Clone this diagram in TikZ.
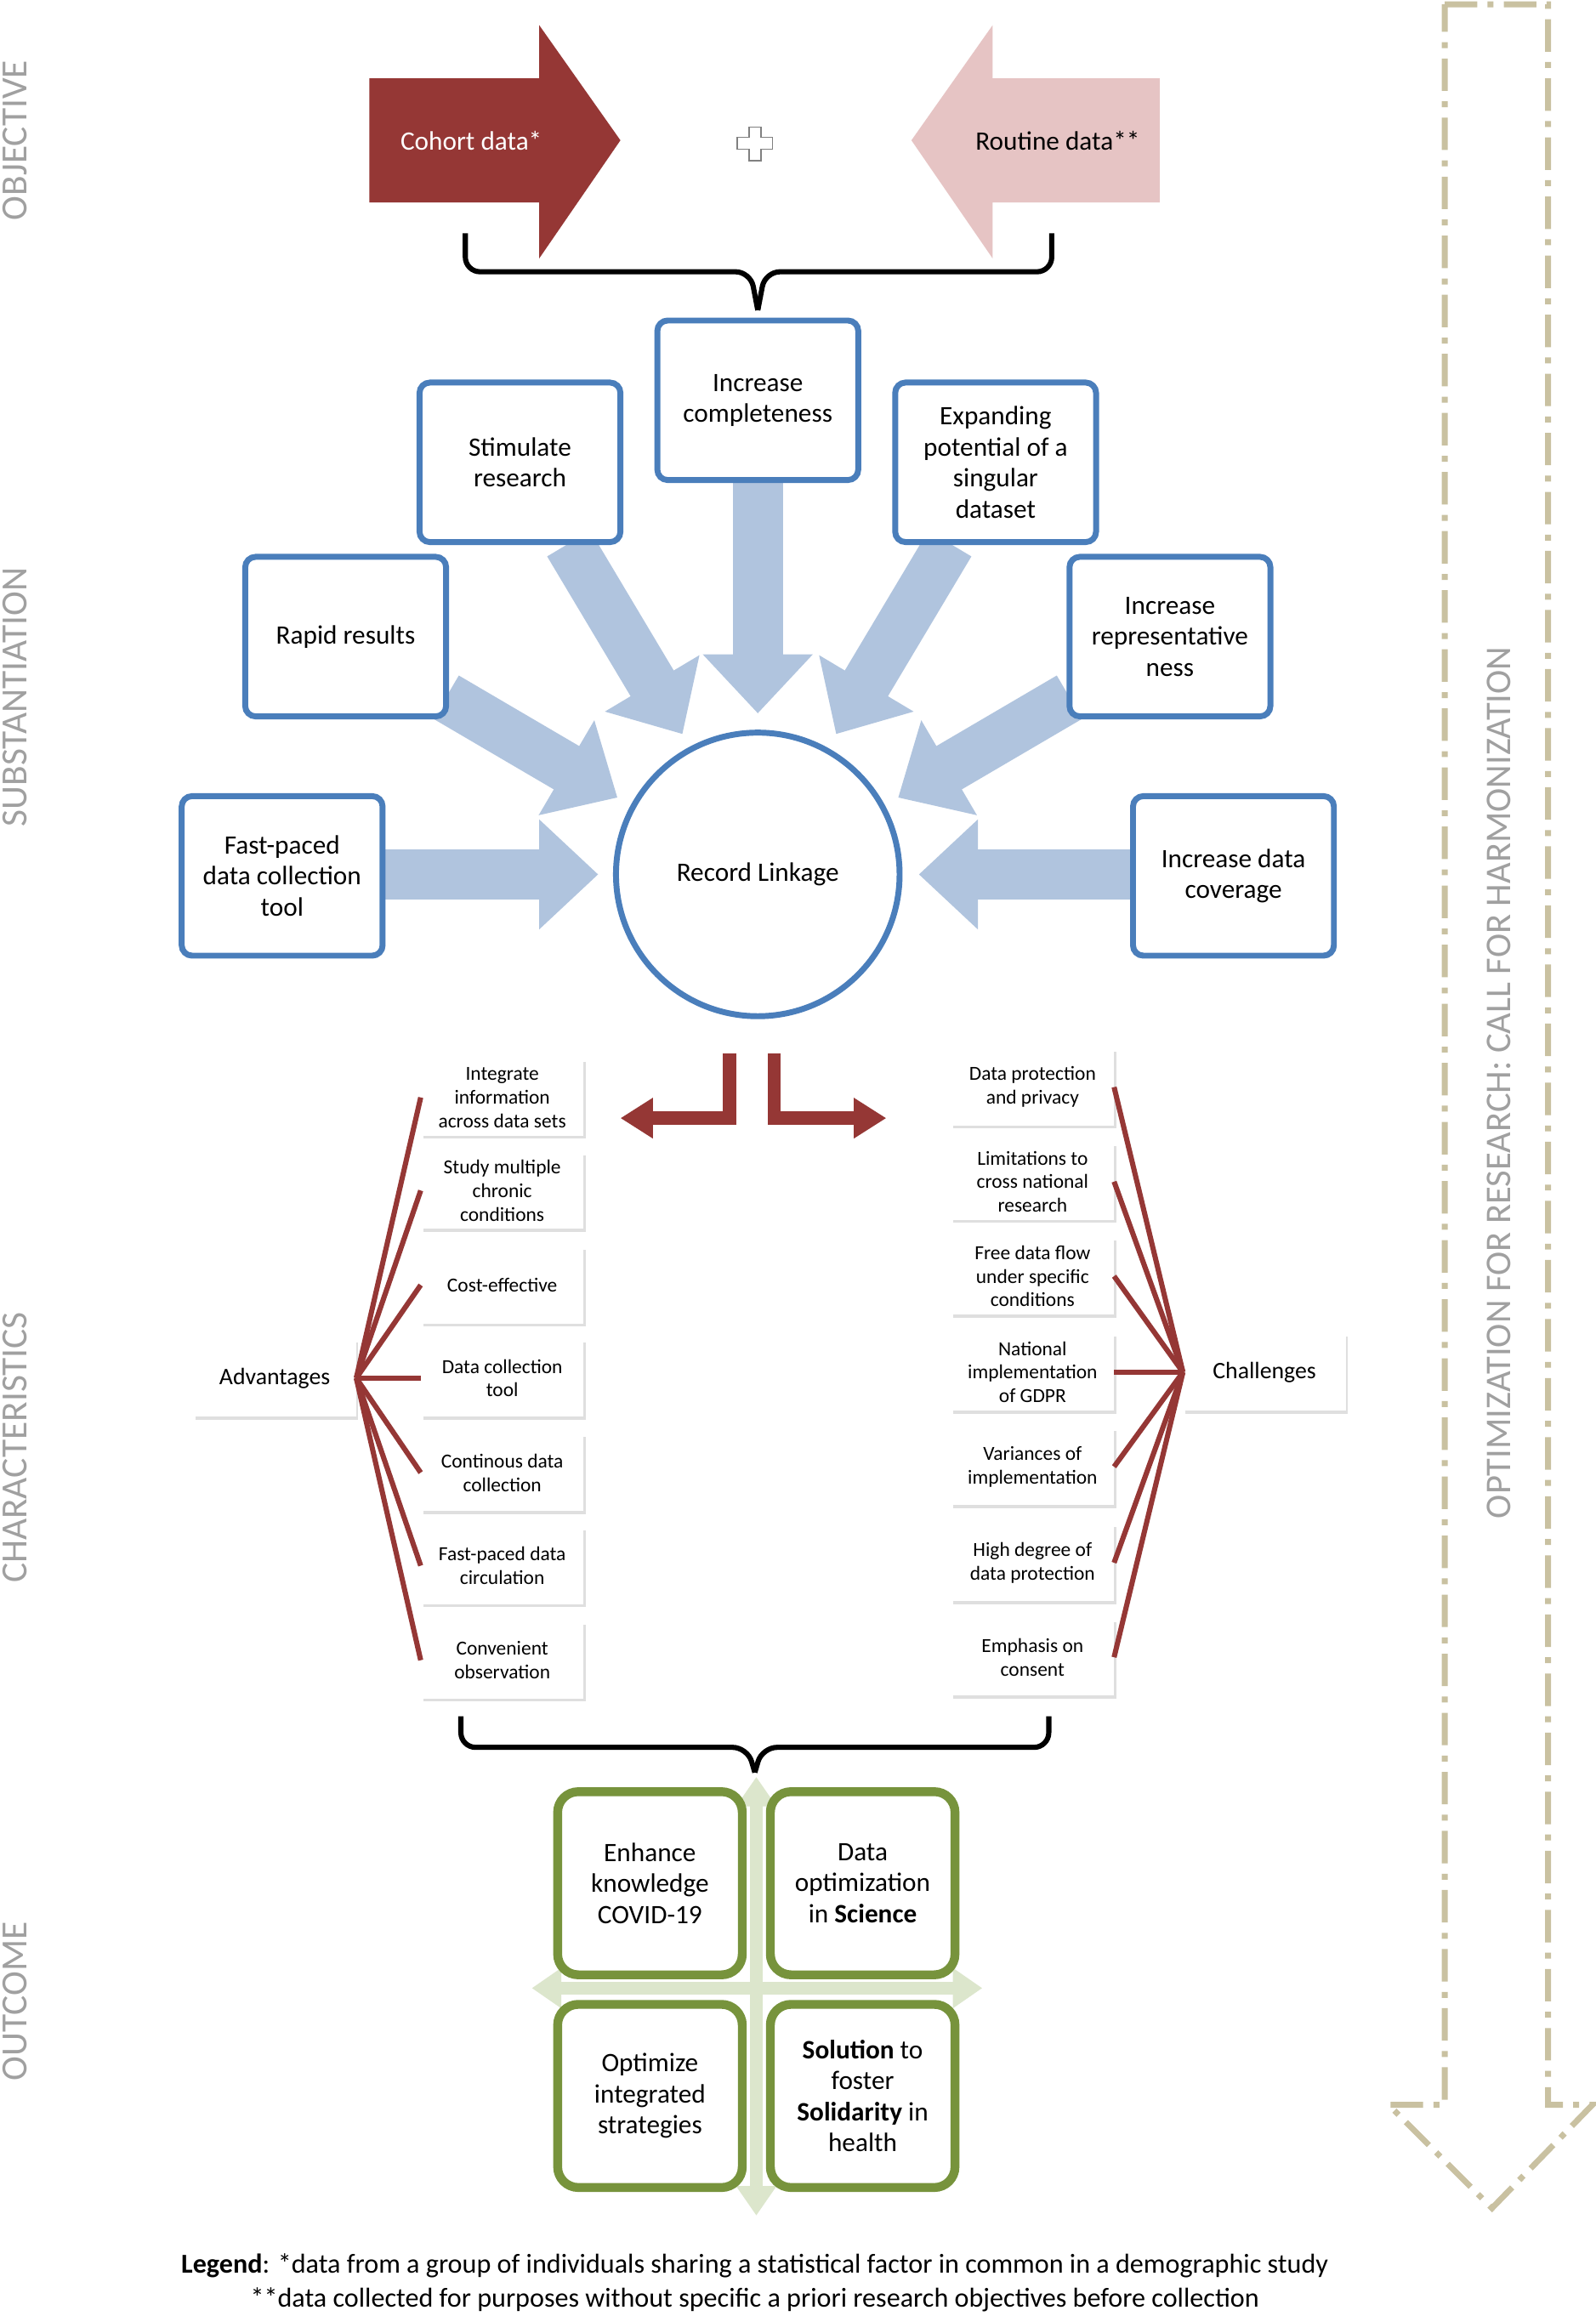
\documentclass[tikz,border=0pt]{standalone}
\usepackage{fontspec}
\setmainfont{Carlito}
\usetikzlibrary{arrows.meta,shadows,decorations.pathreplacing}
\definecolor{dred}{HTML}{953735}
\definecolor{pinkc}{HTML}{E6C4C4}
\definecolor{bbord}{HTML}{4A7EBB}
\definecolor{barrow}{HTML}{B0C4DE}
\definecolor{gbord}{HTML}{77933C}
\definecolor{garrow}{HTML}{DCE6CC}
\definecolor{tan}{HTML}{C9C1A1}
\definecolor{lgray}{HTML}{A0A0A0}
\tikzset{
 bluebox/.style={draw=bbord,line width=4pt,rounded corners=7pt,fill=white,minimum width=136pt,minimum height=108pt,align=center,font=\fontsize{18}{21}\selectfont},
 greenbox/.style={draw=gbord,line width=6pt,rounded corners=14pt,fill=white,minimum width=125pt,minimum height=124pt,align=center,font=\fontsize{18}{21}\selectfont},
 smallbox/.style={fill=white,drop shadow={opacity=0.25,shadow xshift=1.5pt,shadow yshift=-2pt},minimum width=110pt,minimum height=52pt,align=center,font=\fontsize{13.5}{16}\selectfont},
 fatarrow/.style={barrow,line width=34pt,-{Triangle[width=72pt,length=40pt]}},
 redline/.style={dred,line width=3.5pt},
 sidelabel/.style={lgray,rotate=90,font=\fontsize{25}{28}\selectfont},
}
\begin{document}
\begin{tikzpicture}[x=1pt,y=-1pt]
\useasboundingbox[fill=white] (0,0) rectangle (1080,1568);
% side labels
\node[sidelabel] (l1) at (10,95) {OBJECTIVE};
\node[sidelabel] (l2) at (10,472) {SUBSTANTIATION};
\node[sidelabel] (l3) at (10,980) {CHARACTERISTICS};
\node[sidelabel] (l4) at (10,1355) {OUTCOME};
% right dashed arrow
\draw[tan,line width=4pt,dash pattern=on 22pt off 7pt on 4pt off 7pt] (978,3)--(1048,3)--(1048,1425)--(1078,1425)--(1010,1495)--(940,1425)--(978,1425)--cycle;
\node[lgray,rotate=90,font=\fontsize{24.5}{27}\selectfont] (opt) at (1015,733) {OPTIMIZATION FOR RESEARCH: CALL FOR HARMONIZATION};
% top arrows
\fill[dred] (250,53)--(365,53)--(365,17)--(420,95)--(365,175)--(365,137)--(250,137)--cycle;
\node[white,font=\fontsize{18}{21}\selectfont] (cohort) at (319,95) {Cohort data*};
\fill[pinkc] (785,53)--(672,53)--(672,17)--(617,95)--(672,175)--(672,137)--(785,137)--cycle;
\node[font=\fontsize{18}{21}\selectfont] (routine) at (716,95) {Routine data**};
\draw[gray,line width=1pt] (507,86)--(515,86)--(515,93)--(523,93)--(523,101)--(515,101)--(515,109)--(507,109)--(507,101)--(499,101)--(499,93)--(507,93)--cycle;
% brace top
\draw[line width=3.5pt,rounded corners=10pt] (315,158)--(315,184)--(508,184)--(513,210);
\draw[line width=3.5pt,rounded corners=10pt] (712,158)--(712,184)--(518,184)--(513,210);
% blue boxes
\node[draw=bbord,line width=4pt,circle,minimum size=192pt,font=\fontsize{18}{21}\selectfont] (rl) at (513,592) {Record Linkage};
\draw[fatarrow] (513,325)--(513,483);
\draw[fatarrow] (385,368)--(462,497);
\draw[fatarrow] (643,368)--(566,497);
\draw[fatarrow] (302,472)--(418,540);
\draw[fatarrow] (724,472)--(608,540);
\draw[fatarrow] (259,592)--(405,592);
\draw[fatarrow] (767,592)--(622,592);
\node[bluebox] (ic) at (513,271) {Increase\\completeness};
\node[bluebox] (sr) at (352,313) {Stimulate\\research};
\node[bluebox] (ep) at (674,313) {Expanding\\potential of a\\singular\\dataset};
\node[bluebox] (rr) at (234,431) {Rapid results};
\node[bluebox] (ir) at (792,431) {Increase\\representative\\ness};
\node[bluebox] (fp) at (191,593) {Fast-paced\\data collection\\tool};
\node[bluebox] (dc) at (835,593) {Increase data\\coverage};
% red bent arrows
\draw[dred,line width=9pt,-{Triangle[width=26pt,length=22pt]}] (494,713)--(494,757)--(420,757);
\draw[dred,line width=9pt,-{Triangle[width=26pt,length=22pt]}] (524,713)--(524,757)--(600,757);
% advantages
\node[smallbox,font=\fontsize{16}{18}\selectfont] (adv) at (186,933) {Advantages};
\node[smallbox,font=\fontsize{16}{18}\selectfont] (cha) at (856,929) {Challenges};
\foreach \n/\y/\t in {a1/743/{Integrate\\information\\across data sets},a2/806/{Study multiple\\chronic\\conditions},a3/870/{Cost-effective},a4/933/{Data collection\\tool},a5/997/{Continous data\\collection},a6/1060/{Fast-paced data\\circulation},a7/1124/{Convenient\\observation}}{
 \node[smallbox] (\n) at (340,\y) {\t};
 \draw[redline] (adv.east)--(\n.west);
}
\foreach \n/\y/\t in {c1/736/{Data protection\\and privacy},c2/800/{Limitations to\\cross national\\research},c3/864/{Free data flow\\under specific\\conditions},c4/929/{National\\implementation\\of GDPR},c5/993/{Variances of\\implementation},c6/1058/{High degree of\\data protection},c7/1122/{Emphasis on\\consent}}{
 \node[smallbox] (\n) at (699,\y) {\t};
 \draw[redline] (cha.west)--(\n.east);
}
% brace bottom
\draw[line width=3.5pt,rounded corners=10pt] (312,1162)--(312,1183)--(506,1183)--(511,1200);
\draw[line width=3.5pt,rounded corners=10pt] (710,1162)--(710,1183)--(516,1183)--(511,1200);
% green cross
\draw[garrow,line width=9pt,{Triangle[width=26pt,length=20pt]}-{Triangle[width=26pt,length=20pt]}] (512,1203)--(512,1500);
\draw[garrow,line width=9pt,{Triangle[width=26pt,length=20pt]}-{Triangle[width=26pt,length=20pt]}] (360,1346)--(665,1346);
\node[greenbox] (g1) at (440,1275) {Enhance\\knowledge\\COVID-19};
\node[greenbox] (g2) at (584,1275) {Data\\optimization\\in \textbf{Science}};
\node[greenbox] (g3) at (440,1419) {Optimize\\integrated\\strategies};
\node[greenbox] (g4) at (584,1419) {\textbf{Solution} to\\foster\\\textbf{Solidarity} in\\health};
% legend
\node[font=\fontsize{18.5}{21}\selectfont] (leg1) at (511,1534) {\textbf{Legend}: *data from a group of individuals sharing a statistical factor in common in a demographic study};
\node[font=\fontsize{18.5}{21}\selectfont] (leg2) at (511,1557) {**data collected for purposes without specific a priori research objectives before collection};
\end{tikzpicture}
\end{document}
